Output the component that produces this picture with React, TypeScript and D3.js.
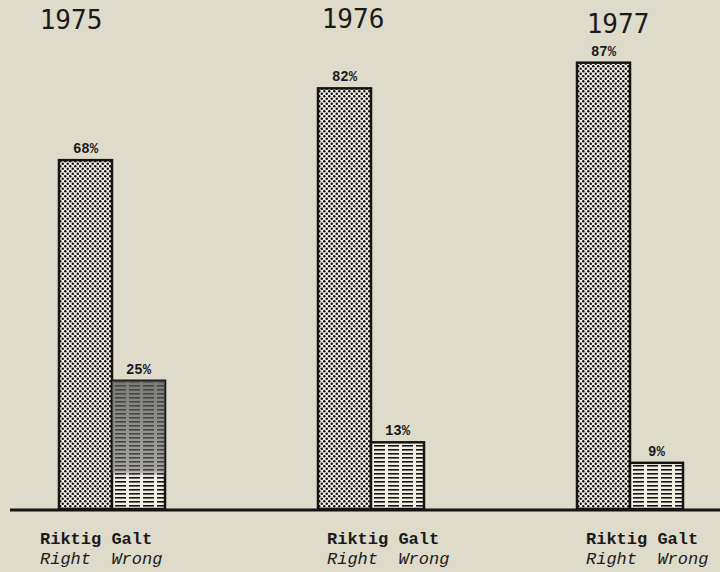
import React, { useEffect, useRef } from "react";
import * as d3 from "d3";

const years = ["1975", "1976", "1977"];
const answers = ["Riktig", "Galt"];
const answersEn = ["Right", "Wrong"];
const rightPct = [68, 82, 87];
const wrongPct = [25, 13, 9];

// small per-group nudges for the printed labels (the original is hand-lettered)
const yearNudge = [-41, -18, -12];
const yearTop = [29, 28, 33];
const captionNudge = [-19, 9, 9];

const W = 720;
const H = 572;
const BG = "#dfdbcb";

const App: React.FC = () => {
  const svgRef = useRef<SVGSVGElement>(null);

  useEffect(() => {
    document.body.style.margin = "0";
    const svg = d3.select(svgRef.current);
    svg.selectAll("*").remove();

    const baseline = 509;
    const x = d3.scaleBand<string>().domain(years).range([59, 836]).padding(0);
    const xi = d3.scaleBand<string>().domain(answers).range([0, 106]).padding(0);
    const y = d3.scaleLinear().domain([0, 100]).range([baseline, baseline - 513]);

    const defs = svg.append("defs");

    const dots = defs
      .append("pattern")
      .attr("id", "dots")
      .attr("width", 5)
      .attr("height", 5)
      .attr("patternUnits", "userSpaceOnUse");
    dots.append("rect").attr("width", 5).attr("height", 5).attr("fill", "#f4f2ea");
    dots.append("circle").attr("cx", 1.25).attr("cy", 1.25).attr("r", 1.25).attr("fill", "#111");
    dots.append("circle").attr("cx", 3.75).attr("cy", 3.75).attr("r", 1.25).attr("fill", "#111");

    const lines = defs
      .append("pattern")
      .attr("id", "lines")
      .attr("width", 14)
      .attr("height", 4)
      .attr("patternUnits", "userSpaceOnUse");
    lines.append("rect").attr("width", 14).attr("height", 4).attr("fill", "#f1efe6");
    lines.append("rect").attr("x", 0).attr("y", 1).attr("width", 11).attr("height", 1.6).attr("fill", "#151515");

    const shade = defs
      .append("linearGradient")
      .attr("id", "shade")
      .attr("x1", 0)
      .attr("y1", 0)
      .attr("x2", 0)
      .attr("y2", 1);
    shade.append("stop").attr("offset", "0%").attr("stop-color", "#555").attr("stop-opacity", 0.75);
    shade.append("stop").attr("offset", "70%").attr("stop-color", "#666").attr("stop-opacity", 0.55);
    shade.append("stop").attr("offset", "75%").attr("stop-color", "#666").attr("stop-opacity", 0);

    svg.append("rect").attr("width", W).attr("height", H).attr("fill", BG);

    const rows = years.map((yr, i) => ({
      year: yr,
      i,
      values: [
        { key: "Riktig", v: rightPct[i] },
        { key: "Galt", v: wrongPct[i] },
      ],
    }));

    const g = svg
      .selectAll("g.year")
      .data(rows)
      .enter()
      .append("g")
      .attr("class", "year")
      .attr("transform", (d) => `translate(${x(d.year)},0)`);

    g.selectAll("rect.bar")
      .data((d) => d.values)
      .enter()
      .append("rect")
      .attr("class", "bar")
      .attr("x", (d) => xi(d.key) || 0)
      .attr("width", xi.bandwidth())
      .attr("y", (d) => y(d.v))
      .attr("height", (d) => baseline - y(d.v))
      .attr("fill", (d) => (d.key === "Riktig" ? "url(#dots)" : "url(#lines)"))
      .attr("stroke", "#161412")
      .attr("stroke-width", 2.5);

    // the 1975 "wrong" bar is printed much darker in the original
    g.filter((d) => d.i === 0)
      .append("rect")
      .attr("x", xi("Galt") || 0)
      .attr("width", xi.bandwidth())
      .attr("y", y(wrongPct[0]))
      .attr("height", baseline - y(wrongPct[0]))
      .attr("fill", "url(#shade)");

    g.selectAll("text.val")
      .data((d) => d.values)
      .enter()
      .append("text")
      .attr("class", "val")
      .attr("x", (d) => (xi(d.key) || 0) + xi.bandwidth() / 2)
      .attr("y", (d) => y(d.v) - 7)
      .attr("text-anchor", "middle")
      .attr("font-family", "'Liberation Mono', monospace")
      .attr("font-weight", "bold")
      .attr("font-size", 14)
      .attr("fill", "#1a1a1a")
      .text((d) => `${d.v}%`);

    g.append("text")
      .attr("x", (d) => 53 + yearNudge[d.i])
      .attr("y", (d) => yearTop[d.i])
      .attr("text-anchor", "middle")
      .attr("font-family", "'DejaVu Sans Mono', monospace")
      .attr("font-size", 26)
      .attr("fill", "#1a1a1a")
      .text((d) => d.year);

    g.append("text")
      .attr("x", (d) => captionNudge[d.i])
      .attr("y", 544)
      .attr("font-family", "'Liberation Mono', monospace")
      .attr("font-weight", "bold")
      .attr("font-size", 17)
      .attr("fill", "#1a1a1a")
      .text(answers.join(" "));

    g.append("text")
      .attr("x", (d) => captionNudge[d.i])
      .attr("y", 564)
      .attr("font-family", "'Liberation Mono', monospace")
      .attr("font-style", "italic")
      .attr("font-size", 17)
      .attr("fill", "#1a1a1a")
      .attr("xml:space", "preserve")
      .style("white-space", "pre")
      .text(answersEn.join("  "));

    svg
      .append("line")
      .attr("x1", 10)
      .attr("x2", W)
      .attr("y1", baseline + 1)
      .attr("y2", baseline + 1)
      .attr("stroke", "#161412")
      .attr("stroke-width", 3);
  }, []);

  return <svg ref={svgRef} width={W} height={H} style={{ display: "block" }}></svg>;
};

export default App;
